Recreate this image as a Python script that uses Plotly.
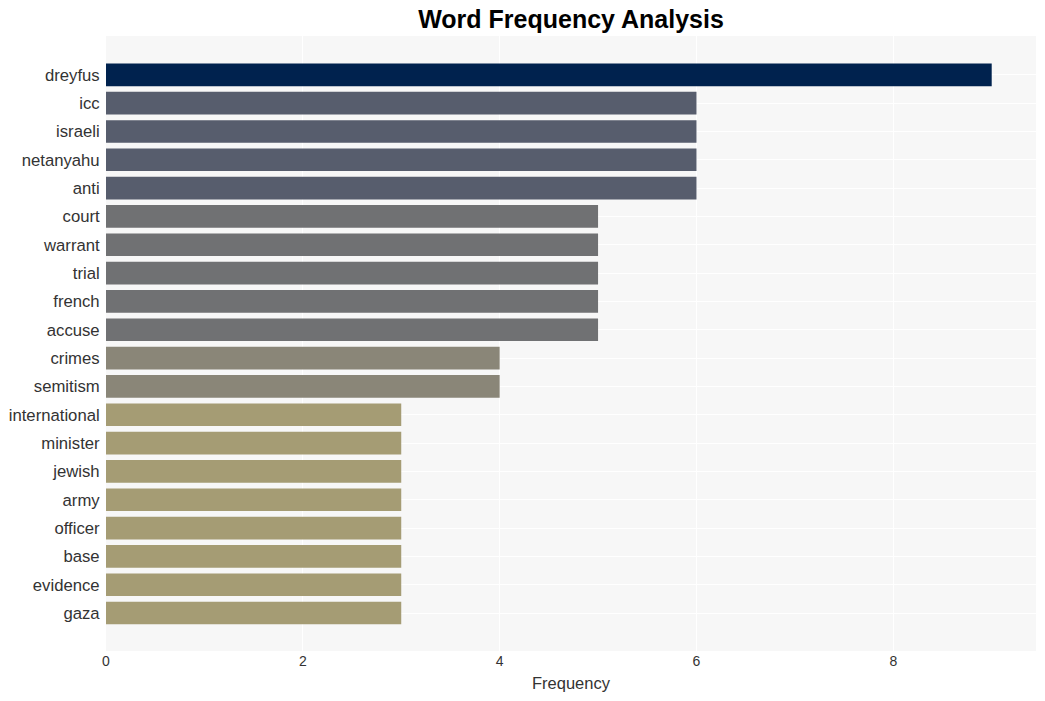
import plotly.graph_objects as go

words = ["dreyfus", "icc", "israeli", "netanyahu", "anti", "court", "warrant", "trial",
         "french", "accuse", "crimes", "semitism", "international", "minister", "jewish",
         "army", "officer", "base", "evidence", "gaza"]
counts = [9, 6, 6, 6, 6, 5, 5, 5, 5, 5, 4, 4, 3, 3, 3, 3, 3, 3, 3, 3]
color_by_count = {9: "#00224e", 6: "#575d6d", 5: "#707173", 4: "#8a8678", 3: "#a59c74"}
colors = [color_by_count[c] for c in counts]

fig = go.Figure(go.Bar(
    x=counts, y=words, orientation="h",
    marker=dict(color=colors, line=dict(width=0)),
))

fig.update_layout(
    width=1045, height=701,
    margin=dict(l=106, r=9, t=36, b=50),
    paper_bgcolor="white",
    plot_bgcolor="#f7f7f7",
    bargap=0.2,
    title=dict(text="<b>Word Frequency Analysis</b>", x=0.5, xref="paper", xanchor="center",
               y=0.972, yref="container", yanchor="middle",
               font=dict(family="Liberation Sans, Arial", size=25, color="black")),
    font=dict(family="Liberation Sans, Arial"),
    showlegend=False,
)
fig.update_xaxes(
    title=dict(text="Frequency", font=dict(size=16.5, color="#333"), standoff=9),
    range=[0, 9.45], tickvals=[0, 2, 4, 6, 8],
    tickfont=dict(size=14, color="#333"),
    ticks="",
    showgrid=True, gridcolor="white", gridwidth=1, zeroline=False,
    automargin=False,
)
fig.update_yaxes(
    categoryorder="array", categoryarray=words,
    range=[20.34, -1.37],
    tickfont=dict(size=16.7, color="#333"),
    showgrid=True, gridcolor="white", gridwidth=1,
    ticks="outside", ticklen=2, tickcolor="rgba(0,0,0,0)",
    automargin=False,
)

fig.write_html("out.html")
